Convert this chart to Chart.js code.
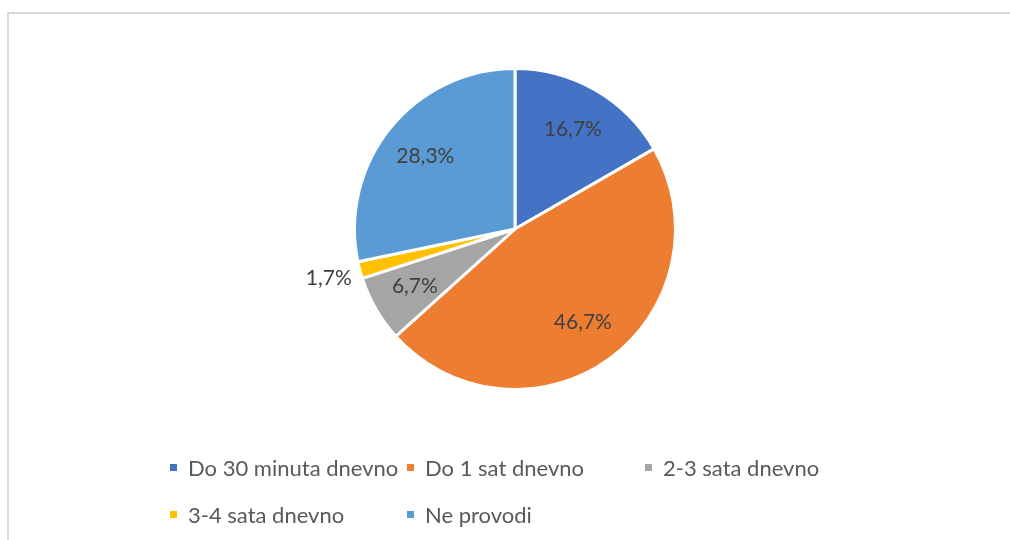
<!DOCTYPE html>
<html>
<head>
<meta charset="utf-8">
<script src="https://cdn.jsdelivr.net/npm/chart.js@4"></script>
<style>
  html, body { margin: 0; padding: 0; background: #fff; overflow: hidden; }
  #wrap { position: relative; width: 1010px; height: 540px; overflow: hidden; }
  .edge { position: absolute; background: #d9d9d9; }
  #edgeTop { left: 7px; top: 12px; width: 1003px; height: 2px; }
  #edgeLeft { left: 7px; top: 12px; width: 2px; height: 528px; }
  #pie { position: absolute; left: 0; top: 0; }
  #legend { position: absolute; left: 170px; top: 455px; width: 760px;
            display: grid; grid-template-columns: 237px 238px 238px; row-gap: 23px;
            font-family: Lato, "Open Sans", sans-serif; font-size: 22px; color: #595959; }
  .item { display: flex; align-items: center; height: 24px; white-space: nowrap; }
  .box { width: 7px; height: 7px; margin-right: 11px; flex: none; }
</style>
</head>
<body>
<div id="wrap">
  <div class="edge" id="edgeTop"></div>
  <div class="edge" id="edgeLeft"></div>
  <canvas id="pie" width="1010" height="540"></canvas>
  <div id="legend"></div>
</div>
<script>
// categories and values (share of respondents, %)
const categories = ['Do 30 minuta dnevno', 'Do 1 sat dnevno', '2-3 sata dnevno', '3-4 sata dnevno', 'Ne provodi'];
const shares = [16.7, 46.7, 6.7, 1.7, 28.3];
const colors = ['#4472C4', '#ED7D31', '#A5A5A5', '#FFC000', '#5B9BD5'];

// percent labels, small slices go outside
const sliceLabels = {
    id: 'sliceLabels',
    afterDatasetsDraw(chart) {
        const ctx = chart.ctx;
        const meta = chart.getDatasetMeta(0);
        ctx.save();
        ctx.font = '21px Lato, "Open Sans", sans-serif';
        ctx.fillStyle = '#404040';
        ctx.textAlign = 'center';
        ctx.textBaseline = 'middle';
        meta.data.forEach((arc, i) => {
            const p = arc.getProps(['x', 'y', 'startAngle', 'endAngle', 'outerRadius'], true);
            const mid = (p.startAngle + p.endAngle) / 2;
            const d = shares[i] < 3 ? p.outerRadius * 1.2 : p.outerRadius * 0.72;
            const txt = shares[i].toFixed(1).replace('.', ',') + '%';
            ctx.fillText(txt, p.x + Math.cos(mid) * d, p.y + Math.sin(mid) * d);
        });
        ctx.restore();
    }
};

const ctxPie = document.getElementById('pie');

new Chart(ctxPie, {
    type: 'pie',
    data: {
        labels: categories,
        datasets: [{
            data: shares,
            backgroundColor: colors,
            borderColor: '#ffffff',
            borderWidth: 3
        }]
    },
    options: {
        responsive: false,
        animation: false,
        layout: {
            padding: { top: 67, bottom: 149, left: 20, right: 0 }
        },
        plugins: {
            legend: { display: false },
            tooltip: { enabled: false }
        }
    },
    plugins: [sliceLabels]
});

// legend rows built from the same arrays
const legendEl = document.getElementById('legend');
categories.forEach((name, i) => {
    const item = document.createElement('div');
    item.className = 'item';
    const box = document.createElement('span');
    box.className = 'box';
    box.style.background = colors[i];
    const label = document.createElement('span');
    label.textContent = name;
    item.appendChild(box);
    item.appendChild(label);
    legendEl.appendChild(item);
});
</script>
</body>
</html>
